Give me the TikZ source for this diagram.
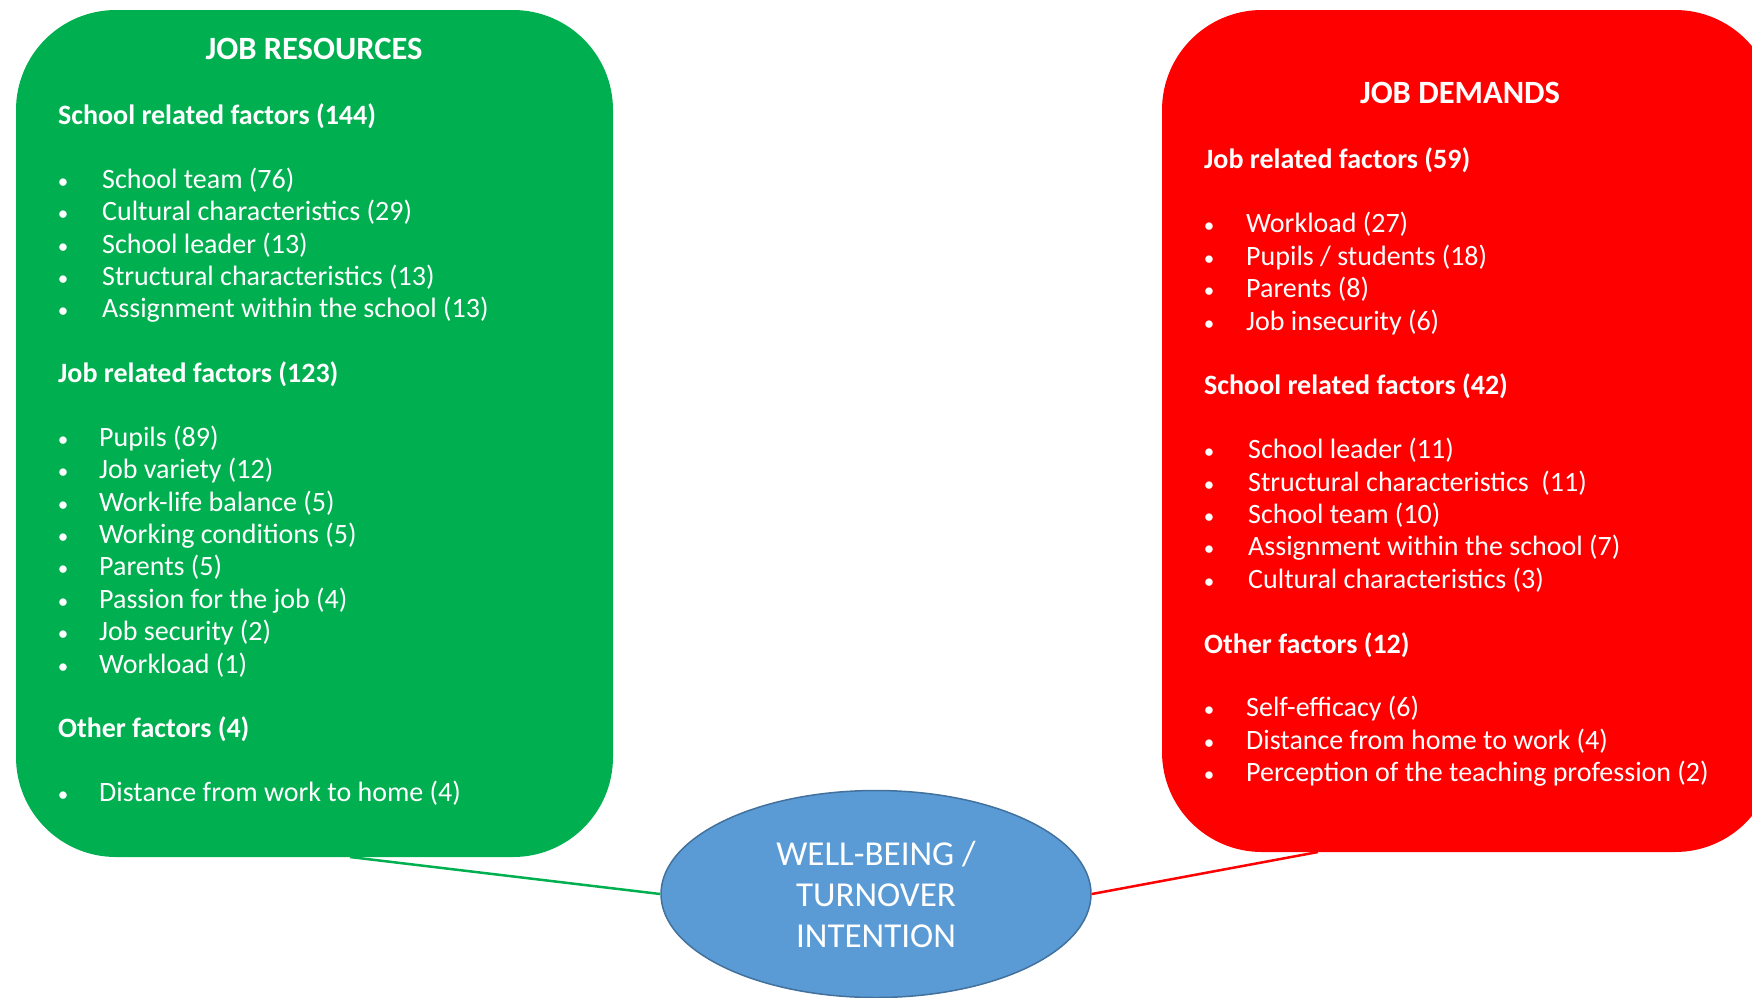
\documentclass[tikz,border=0pt]{standalone}
\usepackage{fontspec}
\setmainfont{Carlito}
\usetikzlibrary{shapes.geometric}
\definecolor{jrgreen}{HTML}{00B050}
\definecolor{jdred}{HTML}{FF0000}
\definecolor{wbblue}{HTML}{5B9BD5}
\definecolor{wbedge}{HTML}{41719C}
\newcommand\bulletitem[5]{%
  \node[bul] (#1b) at (#2,#4) {•};
  \node[itm] (#1) at (#3,#4) {#5};}
\begin{document}
\begin{tikzpicture}[x=1pt,y=-1pt,
  panel/.style={rectangle, rounded corners=100pt, draw=none, inner sep=0pt},
  itm/.style={anchor=base west, inner sep=0pt, text=white, font=\fontsize{28}{33}\selectfont},
  hdr/.style={itm, font=\fontsize{28}{33}\selectfont\bfseries},
  ttl/.style={anchor=base, inner sep=0pt, text=white, font=\fontsize{32.5}{38}\selectfont\bfseries},
  bul/.style={anchor=base, inner sep=0pt, text=white, font=\fontsize{21}{25}\selectfont},
  link/.style={line width=2.5pt}]
\useasboundingbox (0,0) rectangle (1752,997);
\clip (0,0) rectangle (1752,997);
% panels
\node[panel, fill=jrgreen, minimum width=597pt, minimum height=847pt] (res) at (314.5,433.5) {};
\node[panel, fill=jdred, minimum width=613pt, minimum height=842pt] (dem) at (1468.5,431) {};
% centre ellipse
\node[ellipse, fill=wbblue, draw=wbedge, line width=1.5pt, minimum width=430pt, minimum height=207pt,
  inner sep=0pt, align=center, text=white, font=\fontsize{35}{41}\selectfont] (wb) at (876,894)
  {WELL-BEING /\\TURNOVER\\INTENTION};
% connectors
\coordinate (resfoot) at (350,857);
\coordinate (demfoot) at (1318,852);
\draw[link, jrgreen] (resfoot) -- (wb.west);
\draw[link, jdred] (demfoot) -- (wb.east);
% JOB RESOURCES
\node[ttl] (restitle) at (314,59) {JOB RESOURCES};
\node[hdr] (rh1) at (58,124) {School related factors (144)};
\bulletitem{r11}{63}{102}{188}{School team (76)}
\bulletitem{r12}{63}{102}{220}{Cultural characteristics (29)}
\bulletitem{r13}{63}{102}{253}{School leader (13)}
\bulletitem{r14}{63}{102}{285}{Structural characteristics (13)}
\bulletitem{r15}{63}{102}{317}{Assignment within the school (13)}
\node[hdr] (rh2) at (58,382) {Job related factors (123)};
\bulletitem{r21}{63}{99}{446}{Pupils (89)}
\bulletitem{r22}{63}{99}{478}{Job variety (12)}
\bulletitem{r23}{63}{99}{511}{Work-life balance (5)}
\bulletitem{r24}{63}{99}{543}{Working conditions (5)}
\bulletitem{r25}{63}{99}{575}{Parents (5)}
\bulletitem{r26}{63}{99}{608}{Passion for the job (4)}
\bulletitem{r27}{63}{99}{640}{Job security (2)}
\bulletitem{r28}{63}{99}{673}{Workload (1)}
\node[hdr] (rh3) at (58,737) {Other factors (4)};
\bulletitem{r31}{63}{99}{801}{Distance from work to home (4)}
% JOB DEMANDS
\node[ttl] (demtitle) at (1460,103) {JOB DEMANDS};
\node[hdr] (dh1) at (1204,168) {Job related factors (59)};
\bulletitem{d11}{1209}{1246}{232}{Workload (27)}
\bulletitem{d12}{1209}{1246}{265}{Pupils / students (18)}
\bulletitem{d13}{1209}{1246}{297}{Parents (8)}
\bulletitem{d14}{1209}{1246}{330}{Job insecurity (6)}
\node[hdr] (dh2) at (1204,394) {School related factors (42)};
\bulletitem{d21}{1209}{1248}{458}{School leader (11)}
\bulletitem{d22}{1209}{1248}{491}{Structural characteristics \ (11)}
\bulletitem{d23}{1209}{1248}{523}{School team (10)}
\bulletitem{d24}{1209}{1248}{555}{Assignment within the school (7)}
\bulletitem{d25}{1209}{1248}{588}{Cultural characteristics (3)}
\node[hdr] (dh3) at (1204,653) {Other factors (12)};
\bulletitem{d31}{1209}{1246}{716}{Self-efficacy (6)}
\bulletitem{d32}{1209}{1246}{749}{Distance from home to work (4)}
\bulletitem{d33}{1209}{1246}{781}{Perception of the teaching profession (2)}
\end{tikzpicture}
\end{document}
